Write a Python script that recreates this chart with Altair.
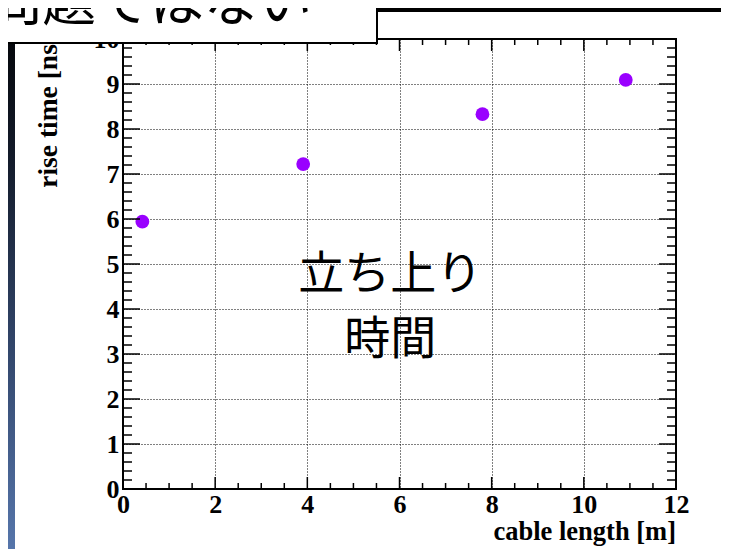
import altair as alt
import pandas as pd

# ---- data ----
cable_length = [0.42, 3.91, 7.80, 10.91]
rise_time = [5.94, 7.22, 8.33, 9.09]

x_major = [0, 2, 4, 6, 8, 10, 12]
y_major = [0, 1, 2, 3, 4, 5, 6, 7, 8, 9, 10]
x_minor = [i * 0.5 for i in range(25) if i % 4 != 0]
y_minor = [round(i * 0.2, 1) for i in range(51) if i % 5 != 0]

x_title = "cable length [m]"
y_title = "rise time [ns]"
note_lines = ["立ち上り", "時間"]
note_x = [5.8, 5.8]
note_y = [4.76, 3.31]
header = "問題ではない"

W, H = 553, 450
SERIF = "Liberation Serif"
CJK = "Noto Sans CJK JP"

xs = alt.Scale(domain=[0, 12], nice=False, zero=False)
ys = alt.Scale(domain=[0, 10], nice=False, zero=False)

axis_common = dict(
    title=None, grid=True, gridColor="black", gridDash=[1, 2], gridWidth=1,
    gridOpacity=1, domain=False, ticks=False, tickSize=0,
    labelFont=SERIF, labelFontWeight="bold", labelFontSize=26,
    labelColor="black", labelFlush=False, labelOverlap=False,
)
x_axis = alt.Axis(values=x_major, labelPadding=2, **axis_common)
y_axis = alt.Axis(values=y_major, labelPadding=4, **axis_common)


def X():
    return alt.X("x:Q", scale=xs, axis=x_axis)


def Y():
    return alt.Y("y:Q", scale=ys, axis=y_axis)


pts_df = pd.DataFrame({"x": cable_length, "y": rise_time})
points = alt.Chart(pts_df).mark_circle(size=190, color="#9900ff", opacity=1).encode(x=X(), y=Y())


# ---- inward ticks on all four sides ----
def xticks(vals, length):
    df = pd.DataFrame({"x": vals})
    bottom = alt.Chart(df).mark_rule(color="black", strokeWidth=1.5).encode(
        x=X(), y=alt.value(H), y2=alt.value(H - length))
    top = alt.Chart(df).mark_rule(color="black", strokeWidth=1.5).encode(
        x=X(), y=alt.value(0), y2=alt.value(length))
    return [bottom, top]


def yticks(vals, length):
    df = pd.DataFrame({"y": vals})
    left = alt.Chart(df).mark_rule(color="black", strokeWidth=1.5).encode(
        y=Y(), x=alt.value(0), x2=alt.value(length))
    right = alt.Chart(df).mark_rule(color="black", strokeWidth=1.5).encode(
        y=Y(), x=alt.value(W), x2=alt.value(W - length))
    return [left, right]


ticks = xticks(x_major, 12) + xticks(x_minor, 6) + yticks(y_major, 17) + yticks(y_minor, 9)

# ---- annotation inside plot ----
note_df = pd.DataFrame({"x": note_x, "y": note_y, "t": note_lines})
note = alt.Chart(note_df).mark_text(font=CJK, fontSize=46, color="black", baseline="middle",
                                    align="center").encode(x=X(), y=Y(), text="t:N")

one = pd.DataFrame({"k": [0]})

# axis titles
xt = alt.Chart(one).mark_text(text=x_title, font=SERIF, fontWeight="bold", fontSize=26.5,
                              align="right", baseline="alphabetic", color="black").encode(
    x=alt.value(W), y=alt.value(501))
yt = alt.Chart(one).mark_text(text=y_title, font=SERIF, fontWeight="bold", fontSize=27.5, angle=270,
                              align="right", baseline="alphabetic", color="black").encode(
    x=alt.value(-66), y=alt.value(-4))

# ---- slide decorations ----
strip = alt.Chart(one).mark_rect(color=alt.LinearGradient(
    gradient="linear", x1=0, x2=0, y1=0, y2=1,
    stops=[alt.GradientStop(color="#000000", offset=0),
           alt.GradientStop(color="#141c2c", offset=0.3),
           alt.GradientStop(color="#34496f", offset=0.65),
           alt.GradientStop(color="#5878ae", offset=1)])).encode(
    x=alt.value(-125), x2=alt.value(-108), y=alt.value(-45), y2=alt.value(520))
topbar = alt.Chart(one).mark_rect(color="black").encode(
    x=alt.value(250), x2=alt.value(620), y=alt.value(-45), y2=alt.value(-27))
box = alt.Chart(one).mark_rect(fill="white", stroke="black", strokeWidth=2).encode(
    x=alt.value(-125), x2=alt.value(254), y=alt.value(-45), y2=alt.value(4))
box_text = alt.Chart(one).mark_text(text=header, font=CJK, fontSize=54, align="left",
                                    baseline="alphabetic", color="black").encode(
    x=alt.value(-135), y=alt.value(-18))

chart = alt.layer(points, *ticks, note, xt, yt, strip, topbar, box, box_text).properties(
    width=W, height=H,
    autosize=alt.AutoSizeParams(type="none"),
    padding={"left": 115, "top": 31, "right": 45, "bottom": 60},
    background="white",
).configure_view(stroke="black", strokeWidth=2)

chart.save("out.html", embed_options={"renderer": "svg", "actions": False})
